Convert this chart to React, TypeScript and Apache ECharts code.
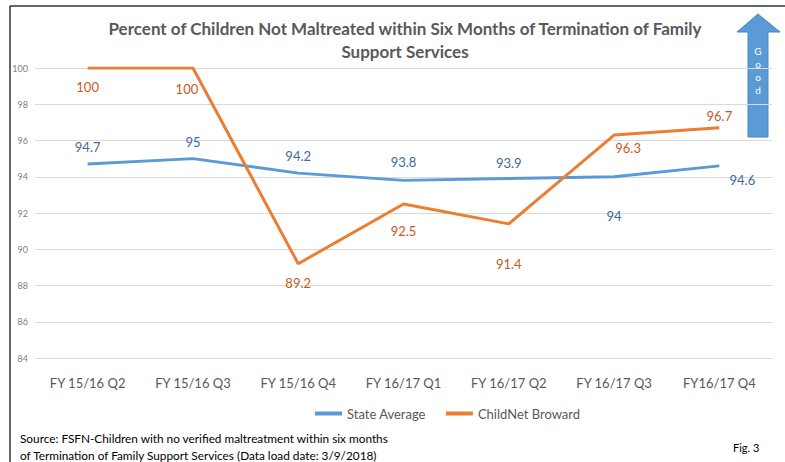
import React, { useEffect, useRef } from "react";
import * as echarts from "echarts";

const categories = ["FY 15/16 Q2", "FY 15/16 Q3", "FY 15/16 Q4", "FY 16/17 Q1", "FY 16/17 Q2", "FY 16/17 Q3", "FY16/17 Q4"];
const stateAverage = [94.7, 95, 94.2, 93.8, 93.9, 94, 94.6];
const childNet = [100, 100, 89.2, 92.5, 91.4, 96.3, 96.7];
// label offsets (dx, dy) from each point
const stateOffsets = [[0, -17], [0, -17], [0, -17], [0, -18], [0, -16], [0, 39], [23, 14]];
const childOffsets = [[0, 19], [-6, 21], [0, 19], [0, 27], [0, 40], [14, 13], [0, -12]];

const FONT = "Lato, 'Open Sans', sans-serif";

export default function App() {
  const ref = useRef<HTMLDivElement>(null);
  useEffect(() => {
    const chart = echarts.init(ref.current!, null, { renderer: "svg" });
    chart.setOption({
      animation: false,
      backgroundColor: "#ffffff",
      title: {
        text: "Percent of Children Not Maltreated within Six Months of Termination of Family\nSupport Services",
        left: 400,
        textAlign: "center",
        top: 12,
        textStyle: { fontFamily: FONT, fontSize: 17, fontWeight: "bold", color: "#595959", lineHeight: 23 },
      },
      legend: {
        top: 402,
        left: 310,
        itemWidth: 27,
        itemHeight: 4,
        itemGap: 20,
        icon: "rect",
        textStyle: { fontFamily: FONT, fontSize: 13, color: "#595959" },
        data: ["State Average", "ChildNet Broward"],
      },
      grid: { left: 35, right: 13, top: 68, bottom: 104 },
      xAxis: {
        type: "category",
        data: categories,
        axisLine: { lineStyle: { color: "#d9d9d9" } },
        axisTick: { show: false },
        axisLabel: { fontFamily: FONT, fontSize: 13, color: "#595959", margin: 18 },
      },
      yAxis: {
        type: "value",
        min: 84,
        max: 100,
        interval: 2,
        axisLine: { show: false },
        axisTick: { show: false },
        splitLine: { lineStyle: { color: "#d9d9d9" } },
        axisLabel: { fontFamily: FONT, fontSize: 9, color: "#808080", margin: 7 },
      },
      series: [
        {
          name: "State Average",
          type: "line",
          data: stateAverage.map((v, i) => ({ value: v, label: { offset: stateOffsets[i] } })),
          symbol: "circle",
          symbolSize: 0,
          showSymbol: true,
          lineStyle: { color: "#5B9BD5", width: 3 },
          itemStyle: { color: "#5B9BD5" },
          label: { show: true, position: "inside", fontFamily: FONT, fontSize: 13, color: "#3E6A9B" },
        },
        {
          name: "ChildNet Broward",
          type: "line",
          data: childNet.map((v, i) => ({ value: v, label: { offset: childOffsets[i] } })),
          symbol: "circle",
          symbolSize: 0,
          showSymbol: true,
          lineStyle: { color: "#ED7D31", width: 3 },
          itemStyle: { color: "#ED7D31" },
          label: { show: true, position: "inside", fontFamily: FONT, fontSize: 13, color: "#C65A1E" },
        },
      ],
      graphic: [
        { type: "line", shape: { x1: 10, y1: 6, x2: 785, y2: 6 }, style: { stroke: "#333", lineWidth: 1.5 } },
        { type: "line", shape: { x1: 10, y1: 6, x2: 10, y2: 462 }, style: { stroke: "#333", lineWidth: 1.5 } },
        {
          type: "polygon",
          shape: { points: [[758, 14], [780, 32], [768, 32], [768, 137], [748, 137], [748, 32], [737, 32]] },
          style: { fill: "#5B9BD5", stroke: "#4A86BE", lineWidth: 1 },
        },
        {
          type: "text",
          x: 758,
          y: 44,
          style: { text: "G\no\no\nd", fill: "#ffffff", fontFamily: FONT, fontSize: 10, lineHeight: 13, align: "center" },
        },
        {
          type: "text",
          x: 20,
          y: 438,
          style: {
            text: "Source: FSFN-Children with no verified maltreatment within six months",
            fill: "#000000",
            fontFamily: FONT,
            fontSize: 11.8,
            verticalAlign: "middle",
          },
        },
        {
          type: "text",
          x: 20,
          y: 455,
          style: {
            text: "of Termination of Family Support Services (Data load date: 3/9/2018)",
            fill: "#000000",
            fontFamily: FONT,
            fontSize: 11.8,
            verticalAlign: "middle",
          },
        },
        {
          type: "text",
          x: 733,
          y: 447,
          style: { text: "Fig. 3", fill: "#000000", fontFamily: FONT, fontSize: 11, verticalAlign: "middle" },
        },
      ],
    });
    return () => chart.dispose();
  }, []);
  return <div ref={ref} style={{ width: 785, height: 462, position: "absolute", left: 0, top: 0 }} />;
}
